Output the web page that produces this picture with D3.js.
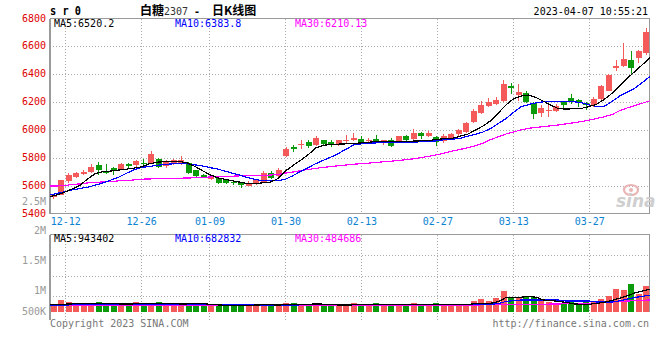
<!DOCTYPE html>
<html><head><meta charset="utf-8">
<script src="https://cdn.jsdelivr.net/npm/d3@7/dist/d3.min.js"></script>
<style>
body{margin:0;background:#fff}
svg{display:block}
text{font-family:"DejaVu Sans Mono",monospace;font-size:10px}
</style>
</head><body>
<svg id="c" width="660" height="360"></svg>
<script>
// ---------- data ----------
const dates=["12-08","12-09","12-12","12-13","12-14","12-15","12-16","12-19","12-20","12-21","12-22","12-23","12-26","12-27","12-28","12-29","12-30",
"01-03","01-04","01-05","01-06","01-09","01-10","01-11","01-12","01-13","01-16","01-17","01-18","01-19","01-20","01-30","01-31",
"02-01","02-02","02-03","02-06","02-07","02-08","02-09","02-10","02-13","02-14","02-15","02-16","02-17","02-20","02-21","02-22","02-23","02-24","02-27","02-28",
"03-01","03-02","03-03","03-06","03-07","03-08","03-09","03-10","03-13","03-14","03-15","03-16","03-17","03-20","03-21","03-22","03-23","03-24","03-27","03-28","03-29","03-30","03-31",
"04-03","04-04","04-06","04-07"];
const open=[5515,5536,5632,5662,5682,5696,5746,5705,5725,5718,5753,5746,5763,5763,5794,5739,5753,5753,5765,5710,5680,5648,5658,5639,5627,5622,5598,5612,5629,5690,5670,5815,5876,5895,5912,5895,5926,5912,5890,5917,5931,5937,5922,5937,5907,5931,5912,5955,5937,5980,5960,5951,5918,5937,5968,5984,6057,6120,6173,6185,6209,6313,6250,6265,6192,6120,6134,6137,6202,6226,6216,6192,6178,6221,6282,6446,6458,6504,6516,6555];
const high=[5543,5644,5691,5698,5715,5753,5770,5753,5734,5760,5763,5782,5794,5849,5797,5782,5794,5811,5770,5715,5687,5675,5665,5646,5644,5627,5630,5648,5702,5702,5726,5878,5895,5926,5926,5960,5931,5926,5931,5967,5980,5960,5945,5967,5931,5945,5960,5967,6004,5988,5995,5960,5970,5975,6009,6057,6149,6209,6226,6233,6361,6337,6330,6282,6202,6178,6192,6185,6209,6257,6221,6202,6233,6322,6400,6499,6627,6564,6572,6730];
const low=[5502,5531,5619,5658,5675,5691,5680,5684,5680,5716,5723,5723,5734,5758,5730,5730,5746,5746,5684,5665,5655,5644,5615,5610,5605,5586,5594,5605,5622,5646,5665,5808,5842,5864,5871,5888,5885,5876,5883,5902,5919,5905,5900,5905,5893,5880,5905,5912,5931,5937,5950,5888,5905,5930,5960,5975,6047,6113,6168,6178,6202,6258,6209,6190,6082,6094,6096,6130,6154,6185,6163,6144,6168,6216,6280,6422,6451,6403,6482,6541];
const close=[5536,5639,5680,5691,5698,5734,5710,5691,5705,5758,5744,5775,5753,5825,5734,5775,5782,5787,5691,5670,5662,5667,5619,5619,5617,5603,5622,5641,5690,5658,5714,5864,5862,5902,5883,5944,5902,5893,5926,5931,5944,5912,5931,5912,5926,5888,5955,5931,5975,5955,5975,5912,5960,5968,5999,6047,6137,6178,6202,6216,6330,6299,6270,6202,6113,6154,6144,6173,6178,6197,6192,6178,6221,6313,6395,6458,6511,6444,6564,6705];
const volume=[273000,483000,386000,273000,302000,273000,386000,357000,273000,273000,273000,386000,344000,344000,386000,273000,273000,244000,344000,315000,244000,244000,244000,244000,244000,315000,244000,302000,302000,244000,244000,357000,357000,244000,315000,315000,315000,244000,244000,244000,357000,244000,315000,357000,315000,244000,315000,244000,357000,244000,244000,357000,315000,244000,315000,315000,441000,525000,441000,580000,861000,622000,580000,651000,622000,441000,386000,344000,344000,386000,344000,441000,441000,525000,664000,945000,903000,1155000,735000,1071000];
const ma5=[5520,5535,5555,5578,5605,5650,5688,5700,5705,5712,5718,5725,5735,5755,5768,5772,5772,5774,5765,5740,5710,5680,5658,5645,5635,5625,5615,5614,5620,5625,5650,5705,5745,5782,5822,5870,5890,5895,5898,5900,5903,5907,5912,5918,5915,5915,5918,5919,5920,5922,5925,5932,5938,5940,5955,5970,5998,6028,6065,6120,6178,6222,6243,6250,6232,6205,6176,6152,6150,6152,6155,6168,6185,6220,6263,6318,6370,6420,6468,6520];
const ma10=[5533,5545,5557,5570,5580,5590,5604,5620,5640,5660,5687,5712,5730,5737,5745,5752,5756,5757,5757,5750,5742,5730,5720,5705,5690,5675,5658,5645,5635,5634,5636,5646,5672,5703,5730,5758,5782,5805,5832,5862,5893,5900,5905,5907,5907,5908,5910,5912,5913,5915,5918,5922,5931,5933,5940,5955,5968,5985,6010,6045,6080,6125,6165,6182,6195,6202,6204,6204,6203,6202,6195,6180,6168,6170,6205,6243,6270,6300,6340,6384];
const ma30=[5598,5598,5600,5610,5612,5620,5622,5628,5630,5634,5636,5641,5646,5648,5649,5650,5651,5653,5655,5656,5657,5662,5665,5667,5668,5670,5672,5673,5674,5676,5680,5690,5698,5708,5716,5724,5731,5737,5743,5748,5754,5758,5762,5766,5772,5776,5781,5787,5793,5803,5812,5822,5835,5848,5860,5872,5886,5905,5930,5950,5970,5985,6000,6012,6018,6024,6030,6036,6044,6052,6060,6071,6082,6095,6110,6138,6158,6175,6192,6210];
const volMa5=[300000,300000,310000,320000,344000,344000,330000,330000,325000,320000,315000,320000,325000,330000,344000,344000,330000,320000,320000,344000,344000,300000,280000,262000,250000,260000,262000,270000,281000,285000,270000,290000,300000,300000,305000,318000,310000,290000,275000,270000,280000,282000,285000,300000,300000,295000,290000,300000,290000,295000,290000,300000,300000,290000,300000,298000,330000,344000,344000,412000,580000,580000,600000,640000,600000,483000,460000,420000,380000,320000,302000,302000,344000,386000,470000,560000,660000,780000,860000,943000];
const volMa10=[273000,270000,275000,280000,282000,285000,288000,290000,290000,292000,290000,292000,295000,298000,300000,300000,298000,295000,293000,290000,288000,285000,282000,280000,278000,275000,273000,273000,272000,270000,270000,272000,275000,278000,280000,282000,283000,285000,285000,286000,288000,290000,290000,292000,292000,293000,294000,295000,295000,296000,296000,296000,297000,297000,298000,298000,300000,302000,302000,330000,420000,460000,483000,483000,483000,483000,483000,483000,441000,441000,441000,441000,400000,400000,400000,450000,520000,590000,640000,683000];
const volMa30=[252000,251000,250000,250000,249000,249000,248000,248000,248000,247000,247000,247000,246000,246000,246000,246000,245000,245000,245000,245000,245000,245000,245000,245000,245000,246000,246000,247000,247000,248000,248000,249000,250000,250000,250000,251000,251000,252000,252000,253000,253000,254000,254000,255000,255000,256000,256000,257000,258000,258000,259000,260000,273000,273000,273000,275000,276000,278000,280000,290000,300000,302000,304000,306000,308000,310000,312000,315000,330000,344000,344000,344000,355000,380000,400000,420000,441000,455000,470000,485000];
const priceTicks=[6800,6600,6400,6200,6000,5800,5600,5400];
const volTicks=[2500000,2000000,1500000,1000000,500000];
const volTickLabels=["2.5M","2M","1.5M","1M","500K"];
const dateTicks=["12-12","12-26","01-09","01-30","02-13","02-27","03-13","03-27"];
const maLegend=[{t:"MA5:6520.2",c:"#000000"},{t:"MA10:6383.8",c:"#0000ff"},{t:"MA30:6210.13",c:"#ff00ff"}];
const volLegend=[{t:"MA5:943402",c:"#000000"},{t:"MA10:682832",c:"#0000ff"},{t:"MA30:484686",c:"#ff00ff"}];

// ---------- layout ----------
const L=50,R=650,T=18.5,B=213.5,VT=234.5,VB=311.5,VG=316.5,VBOT=320;
const UP="#f45a5a",DN="#0a9a0a",GRID="#aaaaaa",BORDER="#9a9a9a";
const svg=d3.select("#c");
const idx=d3.range(dates.length);
const xb=d3.scaleBand().domain(idx).range([L,R]).paddingInner(0.25).paddingOuter(0.125);
const xp=d3.scalePoint().domain(idx).range([L,R]);
const y=d3.scaleLinear().domain([5400,6800]).range([B,T]);
const yv=d3.scaleLinear().domain([0,3242000]).range([VB,VT]);
const yvLab=d3.scaleLinear().domain([500000,1000000,2500000]).range([311.5,290.8,201.5]);
const tickIdx=dateTicks.map(d=>dates.indexOf(d));
const px=v=>Math.round(v)+0.5;

// grid: main
const g=svg.append("g").attr("shape-rendering","crispEdges");
g.selectAll(".hg").data(priceTicks.slice(1,-1)).enter().append("line")
 .attr("x1",L).attr("x2",R).attr("y1",d=>px(y(d))).attr("y2",d=>px(y(d)))
 .attr("stroke",GRID).attr("stroke-dasharray","1,2");
g.selectAll(".vg").data(tickIdx).enter().append("line")
 .attr("x1",d=>px(xp(d))).attr("x2",d=>px(xp(d))).attr("y1",T).attr("y2",B)
 .attr("stroke",GRID).attr("stroke-dasharray","1,2");
// grid: volume
g.selectAll(".vhg").data([1,2,3]).enter().append("line")
 .attr("x1",L).attr("x2",R).attr("y1",k=>px(VT+k*(VG-VT)/4)).attr("y2",k=>px(VT+k*(VG-VT)/4))
 .attr("stroke",GRID).attr("stroke-dasharray","1,2");
g.selectAll(".vvg").data(tickIdx).enter().append("line")
 .attr("x1",d=>px(xp(d))).attr("x2",d=>px(xp(d))).attr("y1",VT).attr("y2",VBOT)
 .attr("stroke",GRID).attr("stroke-dasharray","1,2");

// borders
const bd=svg.append("g").attr("stroke",BORDER).attr("shape-rendering","crispEdges");
bd.append("line").attr("x1",L).attr("x2",R).attr("y1",T).attr("y2",T);
bd.append("line").attr("x1",L).attr("x2",R).attr("y1",B).attr("y2",B).attr("stroke-width",1.5);
bd.append("line").attr("x1",L).attr("x2",L).attr("y1",T).attr("y2",B).attr("stroke-width",2);
bd.append("line").attr("x1",R-0.5).attr("x2",R-0.5).attr("y1",T).attr("y2",B).attr("stroke-width",1.5);
bd.append("line").attr("x1",L).attr("x2",R).attr("y1",VT).attr("y2",VT).attr("stroke-width",1.5);
bd.append("line").attr("x1",L).attr("x2",L).attr("y1",VT).attr("y2",VBOT).attr("stroke-width",2);
bd.append("line").attr("x1",R-0.5).attr("x2",R-0.5).attr("y1",VT).attr("y2",VB).attr("stroke-width",1.5);

// watermark
const wm=svg.append("g");
wm.append("ellipse").attr("cx",631).attr("cy",190).attr("rx",7).attr("ry",5)
 .attr("fill","none").attr("stroke","#eab4b4").attr("stroke-width",2.2);
wm.append("circle").attr("cx",631).attr("cy",190).attr("r",2).attr("fill","#eab4b4");
wm.append("text").attr("x",616).attr("y",207).attr("font-size","17px").attr("font-style","italic")
 .attr("font-weight","bold").attr("fill","#cfcfcf").style("font-family","DejaVu Sans").style("font-size","17px").text("sina");

// candles
const up=i=>close[i]>=open[i];
const cg=svg.append("g").attr("shape-rendering","crispEdges");
const cx=i=>xb(i)+xb.bandwidth()/2;
cg.selectAll(".wick").data(idx).enter().append("line")
 .attr("x1",i=>Math.floor(cx(i))+0.5).attr("x2",i=>Math.floor(cx(i))+0.5)
 .attr("y1",i=>y(high[i])).attr("y2",i=>y(low[i]))
 .attr("stroke",i=>up(i)?UP:DN);
cg.selectAll(".body").data(idx).enter().append("rect")
 .attr("x",i=>xb(i)).attr("width",xb.bandwidth())
 .attr("y",i=>y(Math.max(open[i],close[i])))
 .attr("height",i=>Math.max(1.5,Math.abs(y(open[i])-y(close[i]))))
 .attr("fill",i=>up(i)?UP:DN);

// volume bars
cg.selectAll(".vol").data(idx).enter().append("rect")
 .attr("x",i=>xb(i)).attr("width",xb.bandwidth())
 .attr("y",i=>yv(volume[i])).attr("height",i=>yv(0)-yv(volume[i]))
 .attr("fill",i=>up(i)?UP:DN);

// MA lines
const mline=(arr,ys)=>d3.line().x(i=>xp(i)).y(i=>ys(arr[i]))(idx);
const lg=svg.append("g").attr("fill","none").attr("shape-rendering","crispEdges");
[[ma30,"#ff00ff"],[ma10,"#0000ff"],[ma5,"#000000"]].forEach(([a,c])=>
  lg.append("path").attr("d",mline(a,y)).attr("stroke",c).attr("stroke-width",1.2));
[[volMa30,"#ff00ff"],[volMa10,"#0000ff"],[volMa5,"#000000"]].forEach(([a,c])=>
  lg.append("path").attr("d",mline(a,yv)).attr("stroke",c).attr("stroke-width",1.2));

// axes
const ya=svg.append("g").attr("transform",`translate(${L},0)`)
 .call(d3.axisLeft(y).tickValues(priceTicks).tickSize(0).tickPadding(4).tickFormat(d3.format("d")));
ya.select(".domain").remove();
ya.selectAll("text").attr("fill","#dd0000").attr("dy","0.25em").style("font-size","10px").style("font-family","DejaVu Sans Mono");

const va=svg.append("g").attr("transform",`translate(${L},0)`)
 .call(d3.axisLeft(yvLab).tickValues(volTicks).tickSize(0).tickPadding(4).tickFormat((d,k)=>volTickLabels[k]));
va.select(".domain").remove();
va.selectAll("text").attr("fill","#999999").attr("dy","0.25em").style("font-size","10px").style("font-family","DejaVu Sans Mono");

const xa=svg.append("g").attr("transform",`translate(0,${B})`)
 .call(d3.axisBottom(xp).tickValues(tickIdx).tickSize(0).tickPadding(4).tickFormat(i=>dates[i]));
xa.select(".domain").remove();
xa.selectAll("text").attr("fill","#0a82d2").style("font-size","10px").style("font-family","DejaVu Sans Mono");

// legends
const lgX=[54,175,295];
svg.selectAll(".mlg").data(maLegend).enter().append("text")
 .attr("x",(d,k)=>lgX[k]).attr("y",27).attr("fill",d=>d.c).text(d=>d.t);
svg.selectAll(".vlg").data(volLegend).enter().append("text")
 .attr("x",(d,k)=>lgX[k]).attr("y",242).attr("fill",d=>d.c).text(d=>d.t);

// header
svg.append("text").attr("x",50).attr("y",15).attr("font-weight","bold").style("font-size","13px")
 .attr("textLength",31).attr("lengthAdjust","spacingAndGlyphs").attr("fill","#000").text("s r 0");
const tt=svg.append("text").attr("y",15).attr("fill","#000");
tt.append("tspan").attr("x",140).style("font-family","Noto Sans CJK SC").style("font-size","12px").attr("font-weight","bold").text("白糖");
tt.append("tspan").attr("x",164).style("font-size","10px").attr("fill","#333").text("2307");
tt.append("tspan").attr("x",194).style("font-size","10px").attr("font-weight","bold").text("-");
tt.append("tspan").attr("x",212).style("font-family","Noto Sans CJK SC").style("font-size","12px").attr("font-weight","bold").text("日K线图");
svg.append("text").attr("x",648).attr("y",15).attr("text-anchor","end").attr("fill","#000").text("2023-04-07 10:55:21");

// footer
svg.append("text").attr("x",50).attr("y",327).attr("fill","#777").text("Copyright 2023 SINA.COM");
svg.append("text").attr("x",649).attr("y",327).attr("text-anchor","end").attr("fill","#777").text("http://finance.sina.com.cn");
</script>
</body></html>
